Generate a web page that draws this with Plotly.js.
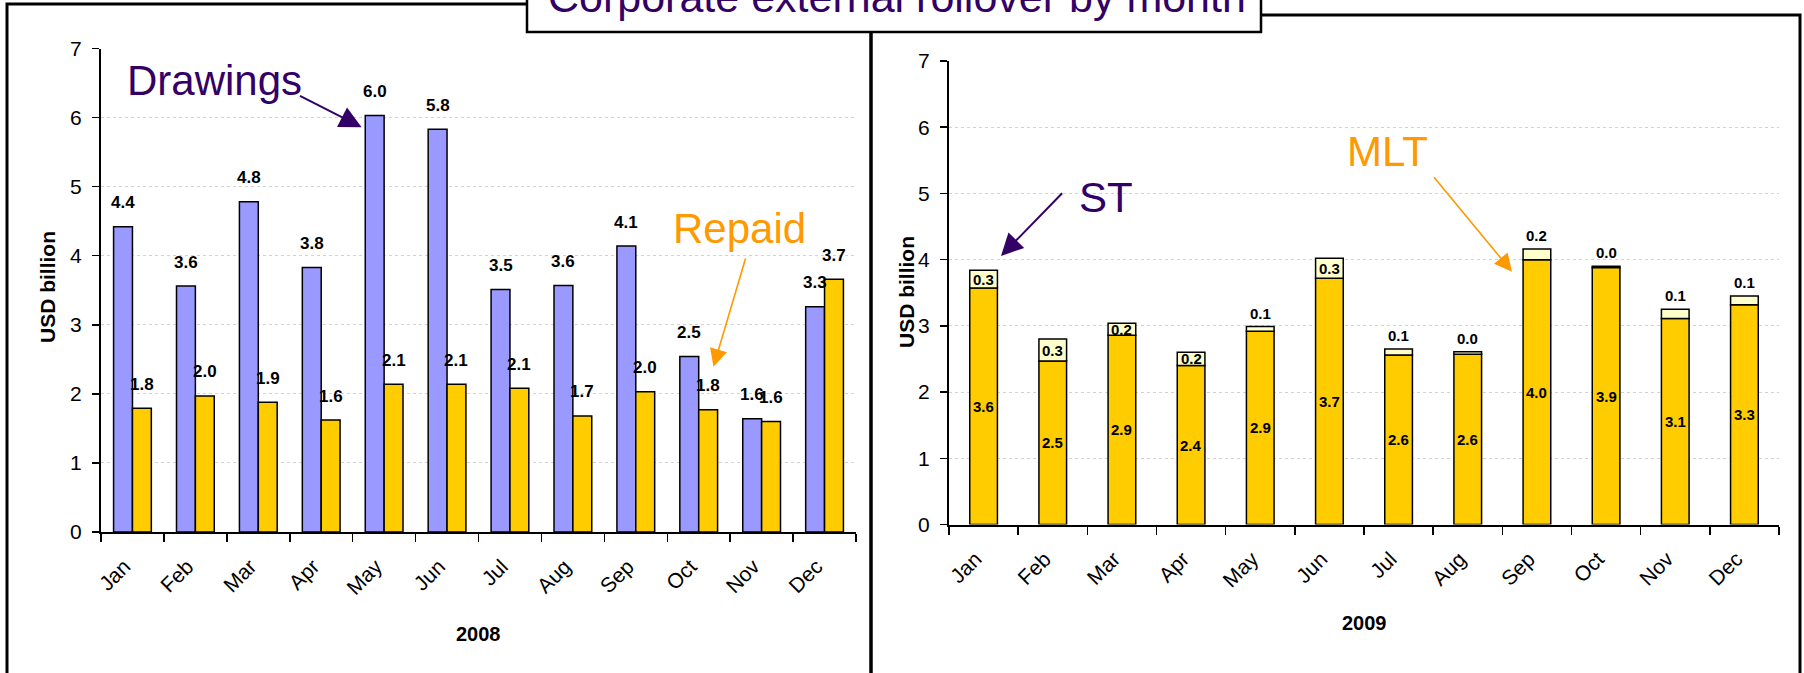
<!DOCTYPE html>
<html>
<head>
<meta charset="utf-8">
<script src="https://cdn.plot.ly/plotly-3.0.1.min.js"></script>
<style>
html,body{margin:0;padding:0;background:#fff;}
#chart{width:1804px;height:673px;}
</style>
</head>
<body>
<div id="chart"></div>
<script>
// ---- data ----
const months = ['Jan','Feb','Mar','Apr','May','Jun','Jul','Aug','Sep','Oct','Nov','Dec'];
// 2008, USD billion
const drawings2008 = [4.42,3.56,4.78,3.83,6.03,5.83,3.51,3.57,4.14,2.54,1.64,3.26];
const repaid2008   = [1.79,1.97,1.88,1.62,2.14,2.14,2.08,1.68,2.03,1.77,1.60,3.66];
// 2009, USD billion (stacked: MLT bottom, ST top)
const mlt2009 = [3.57,2.47,2.86,2.40,2.92,3.72,2.56,2.57,4.00,3.88,3.11,3.32];
const st2009  = [0.27,0.33,0.18,0.20,0.07,0.30,0.09,0.04,0.16,0.02,0.14,0.13];
const yTicks = [0,1,2,3,4,5,6,7];

// ---- layout helpers (pixel -> paper) ----
const W = 1804, H = 673;
const PX = v => v / W;
const PY = v => 1 - v / H;

const FONT = "'Liberation Sans', Arial, sans-serif";
const NARROW = "'Liberation Sans Narrow', 'Arial Narrow', 'Liberation Sans', Arial, sans-serif";
const PURPLE = '#330066';
const ORANGE = '#FF9900';
const BLUE = '#9999FF';
const YELLOW = '#FFCC00';
const PALE = '#FFFFCC';

const traces = [
  {type:'bar', name:'Drawings', x:months, y:drawings2008, xaxis:'x', yaxis:'y',
   width:0.30, offset:-0.30,
   marker:{color:BLUE, line:{color:'#000', width:1.5}}, hoverinfo:'skip'},
  {type:'bar', name:'Repaid', x:months, y:repaid2008, xaxis:'x', yaxis:'y',
   width:0.30, offset:0,
   marker:{color:YELLOW, line:{color:'#000', width:1.5}}, hoverinfo:'skip'},
  {type:'bar', name:'MLT', x:months, y:mlt2009, xaxis:'x2', yaxis:'y2',
   width:0.40,
   marker:{color:YELLOW, line:{color:'#000', width:1.5}}, hoverinfo:'skip'},
  {type:'bar', name:'ST', x:months, y:st2009, base:mlt2009, xaxis:'x2', yaxis:'y2',
   width:0.40,
   marker:{color:PALE, line:{color:'#000', width:1.5}}, hoverinfo:'skip'}
];

function xAxis(domain, anchor){
  return {domain:domain, anchor:anchor, type:'category', range:[-0.5, 11.5],
    showline:true, linecolor:'#000', linewidth:2, mirror:false,
    ticks:'outside', tickson:'boundaries', ticklen:8, tickwidth:1.5, tickcolor:'#000',
    tickangle:-45, tickfont:{family:FONT, size:21, color:'#000'},
    ticklabelstandoff:12, ticklabelshift:-8,
    showgrid:false, zeroline:false, fixedrange:true};
}
function yAxis(domain, anchor){
  return {domain:domain, anchor:anchor, range:[0,7], tickmode:'array', tickvals:yTicks,
    ticktext:yTicks.map(String),
    showline:true, linecolor:'#000', linewidth:2,
    ticks:'outside', ticklen:7, tickwidth:1.5, tickcolor:'#000',
    tickfont:{family:FONT, size:21, color:'#000'}, ticklabelstandoff:6,
    showgrid:true, gridcolor:'#d2d2d2', gridwidth:1, griddash:'dot',
    zeroline:false, fixedrange:true};
}

const annotations = [];
const lblFont = {family:FONT, size:17, color:'#000', weight:'bold'};
const lblFont2 = {family:NARROW, size:15, color:'#000', weight:'bold'};

// data labels, 2008
months.forEach((m,i)=>{
  annotations.push({xref:'x', yref:'y', x:m, y:drawings2008[i], text:drawings2008[i].toFixed(1),
    showarrow:false, xshift:-9.4, yshift:24, yanchor:'middle', font:lblFont});
  annotations.push({xref:'x', yref:'y', x:m, y:repaid2008[i], text:repaid2008[i].toFixed(1),
    showarrow:false, xshift:9.4, yshift:24, yanchor:'middle', font:lblFont});
});
// data labels, 2009
months.forEach((m,i)=>{
  annotations.push({xref:'x2', yref:'y2', x:m, y:mlt2009[i]/2, text:mlt2009[i].toFixed(1),
    showarrow:false, yanchor:'middle', font:lblFont2});
  const inside = st2009[i] >= 0.17;
  annotations.push({xref:'x2', yref:'y2', x:m,
    y: inside ? mlt2009[i] + st2009[i]/2 : mlt2009[i] + st2009[i],
    text:st2009[i].toFixed(1), showarrow:false,
    yanchor: inside ? 'middle' : 'bottom', yshift: inside ? 0 : 3, font:lblFont2});
});

// axis titles
annotations.push({xref:'paper', yref:'paper', x:PX(47), y:PY(287), text:'USD billion', textangle:-90,
  showarrow:false, xanchor:'center', yanchor:'middle', font:{family:FONT, size:21, color:'#000', weight:'bold'}});
annotations.push({xref:'paper', yref:'paper', x:PX(906), y:PY(292), text:'USD billion', textangle:-90,
  showarrow:false, xanchor:'center', yanchor:'middle', font:{family:FONT, size:21, color:'#000', weight:'bold'}});
annotations.push({xref:'paper', yref:'paper', x:PX(478.5), y:PY(634), text:'2008',
  showarrow:false, xanchor:'center', yanchor:'middle', font:{family:FONT, size:20, color:'#000', weight:'bold'}});
annotations.push({xref:'paper', yref:'paper', x:PX(1364), y:PY(623), text:'2009',
  showarrow:false, xanchor:'center', yanchor:'middle', font:{family:FONT, size:20, color:'#000', weight:'bold'}});

// main title (its top is clipped by the picture edge, as in the reference)
annotations.push({xref:'paper', yref:'paper', x:PX(897), y:PY(-3.4), text:'Corporate external rollover by month',
  showarrow:false, xanchor:'center', yanchor:'middle', font:{family:FONT, size:43, color:PURPLE}});

// callout texts
annotations.push({xref:'paper', yref:'paper', x:PX(125), y:PY(80.4), text:'Drawings',
  showarrow:false, xanchor:'left', yanchor:'middle', font:{family:FONT, size:42, color:PURPLE}});
annotations.push({xref:'paper', yref:'paper', x:PX(670.5), y:PY(228.7), text:'Repaid',
  showarrow:false, xanchor:'left', yanchor:'middle', font:{family:FONT, size:42, color:ORANGE}});
annotations.push({xref:'paper', yref:'paper', x:PX(1077), y:PY(197), text:'ST',
  showarrow:false, xanchor:'left', yanchor:'middle', font:{family:FONT, size:42, color:PURPLE}});
annotations.push({xref:'paper', yref:'paper', x:PX(1345), y:PY(152), text:'MLT',
  showarrow:false, xanchor:'left', yanchor:'middle', font:{family:FONT, size:42, color:ORANGE}});

// callout arrows (head position + tail offset in px)
function arrow(hx, hy, tx, ty, color, w, s){
  return {xref:'paper', yref:'paper', x:PX(hx), y:PY(hy), ax:tx-hx, ay:ty-hy, text:'',
    showarrow:true, arrowhead:2, arrowsize:s, arrowwidth:w, arrowcolor:color, standoff:0, startstandoff:0};
}
annotations.push(arrow(361.6,127.3, 298.5,95, PURPLE, 2, 2.2));
annotations.push(arrow(713.5,366.7, 746,257, ORANGE, 1.6, 2.2));
annotations.push(arrow(1001,256, 1063.6,191.7, PURPLE, 2, 2.2));
annotations.push(arrow(1512,271.7, 1432.8,175.7, ORANGE, 1.6, 2.2));

const shapes = [
  {type:'rect', xref:'paper', yref:'paper', x0:PX(7), x1:PX(871), y0:PY(700), y1:PY(4),
   line:{color:'#000', width:3}, fillcolor:'rgba(0,0,0,0)', layer:'above'},
  {type:'rect', xref:'paper', yref:'paper', x0:PX(871), x1:PX(1800), y0:PY(700), y1:PY(15),
   line:{color:'#000', width:3}, fillcolor:'rgba(0,0,0,0)', layer:'above'},
  {type:'rect', xref:'paper', yref:'paper', x0:PX(527), x1:PX(1261), y0:PY(32), y1:PY(-40),
   line:{color:'#000', width:2.5}, fillcolor:'#fff', layer:'above'}
];

const layout = {
  width:W, height:H, margin:{l:0, r:0, t:0, b:0},
  paper_bgcolor:'#fff', plot_bgcolor:'rgba(0,0,0,0)',
  barmode:'overlay', showlegend:false,
  font:{family:FONT, color:'#000'},
  xaxis: xAxis([PX(101), PX(856)], 'y'),
  yaxis: yAxis([PY(532), PY(48.5)], 'x'),
  xaxis2: xAxis([PX(949), PX(1779)], 'y2'),
  yaxis2: yAxis([PY(524.5), PY(61)], 'x2'),
  shapes: shapes,
  annotations: annotations
};

Plotly.newPlot('chart', traces, layout, {staticPlot:true, displayModeBar:false});
</script>
</body>
</html>
